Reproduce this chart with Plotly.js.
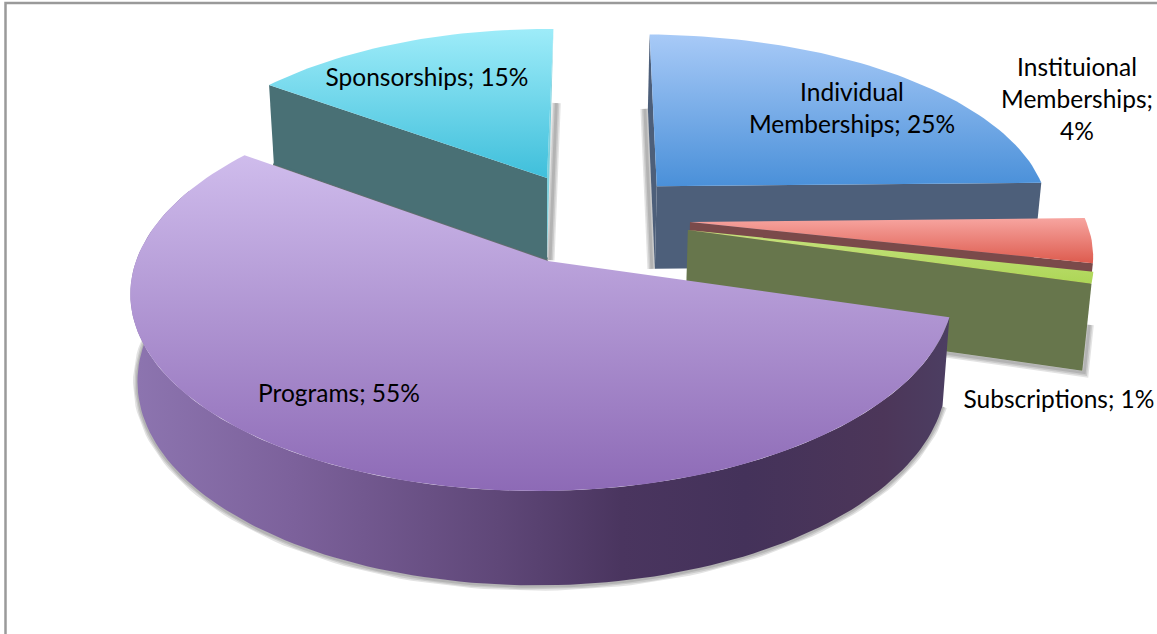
<!DOCTYPE html>
<html>
<head>
<meta charset="utf-8">
<script src="https://cdn.plot.ly/plotly-3.0.1.min.js"></script>
<style>html,body{margin:0;padding:0;background:#fff}#chart{width:1157px;height:634px}#chart text{font-variant-ligatures:none}</style>
</head>
<body>
<div id="chart"></div>
<script>
// ---- data (labels are rounded in the source) ----
var categories = ["Individual Memberships", "Instituional Memberships", "Subscriptions", "Programs", "Sponsorships"];
var shares = [24.6, 3.9, 1.0, 55.4, 15.1];
var labelLines = [["Individual", "Memberships; 25%"], ["Instituional", "Memberships;", "4%"], ["Subscriptions; 1%"], ["Programs; 55%"], ["Sponsorships; 15%"]];

// ---- styling / layout ----
var pullU = [0.278, 0.358, 0.351, 0, -0.0097];
var pullV = [-0.407, -0.206, -0.163, 0, -0.4535];
var radiusU = [1.025, 1.025, 1.025, 1, 0.975];
var radiusV = [1.0, 1.0, 1.0, 1, 0.99];
var topColors = [["#a8caf7", "#4a90d9"], ["#f7a5a0", "#dd5b4e"], ["#c6e27e", "#add657"], ["#cfbcec", "#8d6ab6"], ["#9eecf9", "#3fbfdb"]];
var wallColors = ["#4d5f7a", "#7a4a4a", "#67764c", null, "#497075"];
var labelX = [[852, 852], [1077, 1077, 1077], [1059], [339], [427]];
var labelY = [[95, 127], [70, 102, 134], [402], [396], [80]];
var programWallStops = [[0, "#8d75b0"], [0.2, "#7c619b"], [0.45, "#5f4778"], [0.6, "#4a355f"], [0.75, "#44325a"], [0.92, "#4c3659"], [1, "#4c3e62"]];

var X0 = 548, Y0 = 261, R = 407, H = 195.5, K = 0.15, M = 0.012, SHEAR = 6, DEPTH = 86, DEPTH_V = 8.3, SHRINK = 0.983;

function project(u, v, low) {
  var s = 1 / (1 - K * v + M * u);
  var x = X0 + R * u * s - SHEAR * v;
  var y = Y0 + H * v * s;
  if (low) { x = X0 + SHRINK * (x - X0); y = y + DEPTH + DEPTH_V * v; }
  return [x, y];
}
function at(i, deg, r, low) {
  var t = deg * Math.PI / 180;
  return project(pullU[i] + r * radiusU[i] * Math.sin(t), pullV[i] - r * radiusV[i] * Math.cos(t), low);
}
function arc(i, a, b, low) {
  var pts = [], n = Math.max(4, Math.ceil(Math.abs(b - a) / 1.5));
  for (var j = 0; j <= n; j++) pts.push(at(i, a + (b - a) * j / n, 1, low));
  return pts;
}
function poly(pts, fill, grad) {
  var tr = {
    type: "scatter", mode: "lines", x: pts.map(function (p) { return p[0]; }).concat(pts[0][0]),
    y: pts.map(function (p) { return p[1]; }).concat(pts[0][1]),
    fill: "toself", line: { width: 0 }, hoverinfo: "skip", showlegend: false
  };
  if (grad) tr.fillgradient = grad; else tr.fillcolor = fill;
  return tr;
}
function stroke(pts, width, color) {
  return {
    type: "scatter", mode: "lines", x: pts.map(function (p) { return p[0]; }), y: pts.map(function (p) { return p[1]; }),
    line: { width: width, color: color }, hoverinfo: "skip", showlegend: false
  };
}
function glow(pts, dx, dy) {
  var moved = pts.map(function (p) { return [p[0] + dx, p[1] + dy]; });
  return [9, 6, 3].map(function (w) { return stroke(moved, w, "rgba(0,0,0,0.11)"); });
}
function mid(p, q, t) { return [p[0] + (q[0] - p[0]) * t, p[1] + (q[1] - p[1]) * t]; }

var start = [], sum = 0;
shares.forEach(function (v) { start.push(sum); sum += v * 3.6; });
function end(i) { return start[i] + shares[i] * 3.6; }
function topGrad(i) { return { type: "vertical", colorscale: [[0, topColors[i][1]], [1, topColors[i][0]]] }; }

var traces = [];
function apexT(i) { return at(i, 0, 0, false); }
function apexB(i) { return at(i, 0, 0, true); }

// Sponsorships
var s = 4, sEnd = end(s);
traces = traces.concat(glow([at(s, 360, 1, true), apexB(s)], 3, 0));
traces.push(poly([apexT(s), at(s, 360, 1, false), apexB(s)], "#7fd0dc"));
traces.push(stroke([at(s, start[s], 1, true), apexB(s)], 5, wallColors[s]));
traces.push(poly([apexT(s), at(s, start[s], 1, false), at(s, start[s], 1, true), apexB(s)], wallColors[s]));
traces.push(poly([apexT(s)].concat(arc(s, start[s], sEnd, false)), null, topGrad(s)));

// Individual Memberships
var a = 0;
traces = traces.concat(glow([at(a, 0, 1, true), apexB(a)], -3, 0));
traces.push(poly([at(a, 0, 1, false), at(a, 0, 1, true), apexB(a), apexT(a)], wallColors[a]));
traces.push(poly([apexT(a), at(a, end(a), 1, false), at(a, end(a), 1, true), apexB(a)], wallColors[a]));
traces.push(poly([apexT(a)].concat(arc(a, 0, end(a), false)), null, topGrad(a)));

// Institutional Memberships
var b = 1;
traces.push(poly([apexT(b), at(b, end(b), 1, false), at(b, end(b), 1, true), apexB(b)], wallColors[b]));
traces.push(poly([apexT(b)].concat(arc(b, start[b], end(b), false)), null, topGrad(b)));

// Subscriptions
var c = 2;
traces = traces.concat(glow([mid(at(c, end(c), 1, false), at(c, end(c), 1, true), 0.45), at(c, end(c), 1, true), apexB(c)], 2, 2));
traces.push(poly([apexT(c), at(c, end(c), 1, false), at(c, end(c), 1, true), apexB(c)], wallColors[c]));
traces.push(poly([apexT(c)].concat(arc(c, start[c], end(c), false)), null, topGrad(c)));

// Programs
var p = 3;
var wallTop = arc(p, start[p], 292, false), wallLow = arc(p, start[p], 292, true);
traces = traces.concat(glow(wallLow, 0, 1));
traces.push(poly(wallTop.concat(wallLow.slice().reverse()), null, { type: "horizontal", colorscale: programWallStops }));
traces.push(stroke([at(p, end(p), 0.9, false), apexT(p)], 2, "rgba(110,110,110,0.75)"));
traces.push(poly([apexT(p)].concat(arc(p, start[p], end(p), false)), null, topGrad(p)));

// Labels
var tx = [], ty = [], tt = [];
labelLines.forEach(function (lines, i) {
  lines.forEach(function (line, j) { tx.push(labelX[i][j]); ty.push(labelY[i][j]); tt.push(line); });
});
traces.push({
  type: "scatter", mode: "text", x: tx, y: ty, text: tt, textposition: "middle center",
  textfont: { family: "Lato, Carlito, sans-serif", size: 24.5, color: "#000" }, hoverinfo: "skip", showlegend: false, cliponaxis: false
});

var layout = {
  width: 1157, height: 634, margin: { l: 0, r: 0, t: 0, b: 0 }, paper_bgcolor: "#fff", plot_bgcolor: "#fff",
  showlegend: false,
  xaxis: { range: [0, 1157], visible: false, fixedrange: true },
  yaxis: { range: [634, 0], visible: false, fixedrange: true },
  shapes: [{ type: "path", xref: "x", yref: "y", path: "M 5.5 634 L 5.5 3 L 1157 3", line: { color: "#9a9a9a", width: 2.5 }, layer: "below" }]
};
Plotly.newPlot("chart", traces, layout, { staticPlot: true, displayModeBar: false });
</script>
</body>
</html>
